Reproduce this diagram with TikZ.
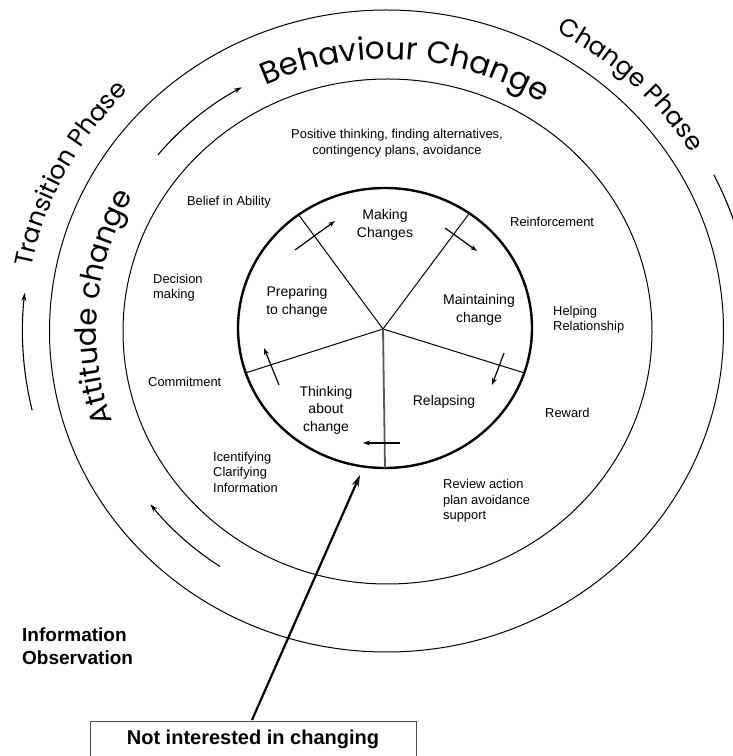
\documentclass[tikz,border=0pt]{standalone}
\usepackage{fontspec}
\setmainfont{Liberation Sans}
\newfontfamily\arcfont{Poppins}
\usetikzlibrary{arrows.meta,decorations.text}
\begin{document}
\begin{tikzpicture}[x=1pt,y=1pt,
  ring/.style={line width=1pt},
  innerring/.style={line width=2.4pt},
  spoke/.style={line width=1pt},
  cyc/.style={line width=1.2pt,-{Stealth[length=7pt,width=5pt]}},
  flow/.style={line width=1.1pt,-{Stealth[length=8pt,width=5pt]}},
  stage/.style={font=\fontsize{14}{17.5}\selectfont,align=center,inner sep=0pt},
  hint/.style={font=\fontsize{12.9}{15.5}\selectfont,align=left,inner sep=0pt},
  boldlbl/.style={font=\bfseries\fontsize{19}{23}\selectfont,align=left,inner sep=0pt}]
\useasboundingbox (0,0) rectangle (733,756);
\clip (0,0) rectangle (733,756);
\coordinate (C) at (386.5,425);
% rings
\draw[ring] (386.5,425) ellipse [x radius=337, y radius=321];
\draw[ring] (387.5,424.5) ellipse [x radius=264.5, y radius=252.5];
\draw[innerring] (385,428) ellipse [x radius=147, y radius=140];
% spokes
\coordinate (hub) at (383,427);
\coordinate (s1) at ([shift={(385,428)}]126:147 and 140);
\coordinate (s2) at ([shift={(385,428)}]55:147 and 140);
\coordinate (s3) at ([shift={(385,428)}]-18.7:147 and 140);
\coordinate (s4) at ([shift={(385,428)}]198.7:147 and 140);
\coordinate (s5) at ([shift={(385,428)}]270:147 and 140);
\draw[spoke] (hub) -- (s1);
\draw[spoke] (hub) -- (s2);
\draw[spoke] (hub) -- (s3);
\draw[spoke] (hub) -- (s4);
\draw[line width=1.8pt,black!65] (hub) -- (s5);
% cycle arrows
\coordinate (a1) at (295,506); \coordinate (b1) at (335,535);
\coordinate (a2) at (445,528); \coordinate (b2) at (477,505);
\coordinate (a3) at (504,403); \coordinate (b3) at (492,371);
\coordinate (a4) at (400,313); \coordinate (b4) at (363,313);
\coordinate (a5) at (279,371); \coordinate (b5) at (264,408);
\draw[cyc] (a1) -- (b1);
\draw[cyc] (a2) -- (b2);
\draw[cyc] (a3) -- (b3);
\draw[cyc] (a4) -- (b4);
\draw[cyc] (a5) -- (b5);
% stage labels
\node[stage] (making) at (385,531) {Making\\Changes};
\node[stage] (preparing) at (297,454) {Preparing\\to change};
\node[stage] (maintaining) at (479,446) {Maintaining\\change};
\node[stage] (thinking) at (326,346) {Thinking\\about\\change};
\node[stage] (relapsing) at (444,354) {Relapsing};
% hints in middle ring
\node[hint,align=center] (positive) at (397,613) {Positive thinking, finding alternatives,\\contingency plans, avoidance};
\node[hint] (belief) at (229,554) {Belief in Ability};
\node[hint,anchor=west] (decision) at (153,468.5) {Decision\\making};
\node[hint,anchor=west] (commit) at (148,374) {Commitment};
\node[hint,anchor=west] (ident) at (213,284) {Icentifying\\Clarifying\\Information};
\node[hint,anchor=west] (reinf) at (510,534) {Reinforcement};
\node[hint,anchor=west] (helping) at (553,436.5) {Helping\\Relationship};
\node[hint,anchor=west] (reward) at (545,343) {Reward};
\node[hint,anchor=west] (review) at (443,255) {Review action\\plan avoidance\\support};
% outer flow arrows
\draw[flow] ([shift={(C)}]141:294 and 280) arc[start angle=141, end angle=119.5, x radius=294, y radius=280];
\draw[flow] ([shift={(C)}]236:298 and 284) arc[start angle=236, end angle=217.6, x radius=298, y radius=284];
\draw[flow] ([shift={(C)}]193.2:364 and 347) arc[start angle=193.2, end angle=173.7, x radius=364, y radius=347];
\draw[line width=1.1pt] ([shift={(C)}]26.6:366 and 349) arc[start angle=26.6, end angle=17, x radius=366, y radius=349];
% curved titles
\path[decorate,decoration={text along path,text align=center,
  text={|\arcfont\fontsize{31}{31}\selectfont|Behaviour Change}}]
  ([shift={(C)}]140:285 and 271.6) arc[start angle=140, end angle=32, x radius=285, y radius=271.6];
\path[decorate,decoration={text along path,text align=center,
  text={|\arcfont\fontsize{29}{29}\selectfont|Attitude change}}]
  ([shift={(C)}]230:290 and 276.4) arc[start angle=230, end angle=120, x radius=290, y radius=276.4];
\path[decorate,decoration={text along path,text align=center,
  text={|\arcfont\fontsize{25}{25}\selectfont|Transition Phase}}]
  ([shift={(C)}]200:361 and 344) arc[start angle=200, end angle=106, x radius=361, y radius=344];
\path[decorate,decoration={text along path,text align=center,
  text={|\arcfont\fontsize{25}{25}\selectfont|Change Phase}}]
  ([shift={(C)}]90:357 and 340) arc[start angle=90, end angle=2, x radius=357, y radius=340];
% bottom
\node[boldlbl,anchor=west] (info) at (22,109.5) {Information\\Observation};
\draw[line width=0.8pt,black!70] (90,-20) rectangle (416,35);
\node[font=\bfseries\fontsize{20}{22}\selectfont,inner sep=0pt] (notint) at (253,17) {Not interested in changing};
\coordinate (boxtop) at (252,36);
\coordinate (tip) at (360,281);
\draw[line width=2.2pt,-{Stealth[length=12pt,width=7pt]}] (boxtop) -- (tip);
\end{tikzpicture}
\end{document}
